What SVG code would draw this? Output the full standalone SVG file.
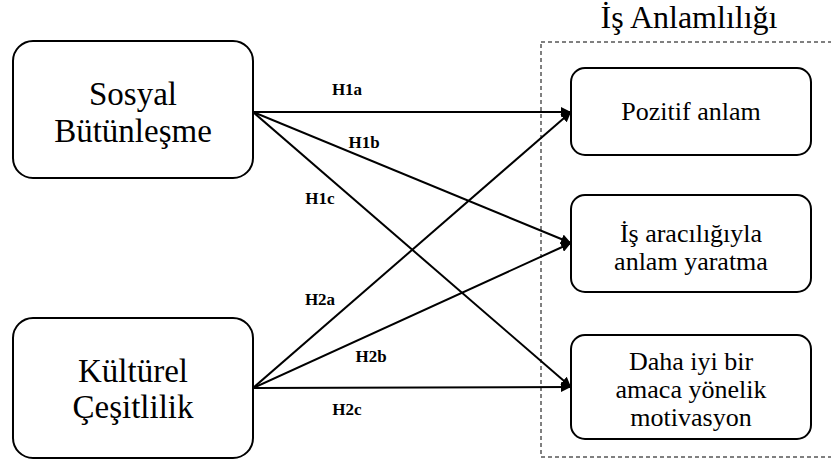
<svg xmlns="http://www.w3.org/2000/svg" width="831" height="471" viewBox="0 0 831 471">
<style>
.box{fill:#fff;stroke:#000;stroke-width:2}
.t{font-family:"Liberation Serif","DejaVu Serif",serif;fill:#000;text-anchor:middle}
.big{font-size:33px}
.mid{font-size:26px}
.lab{font-family:"Liberation Serif","DejaVu Serif",serif;font-size:17px;font-weight:bold;fill:#000;text-anchor:middle}
.c{stroke:#000;stroke-width:2;fill:none;marker-end:url(#ah)}
</style>
<defs>
<marker id="ah" viewBox="0 0 10 10" refX="10" refY="5" markerWidth="5" markerHeight="5" orient="auto" markerUnits="strokeWidth">
<path d="M0,0 L10,5 L0,10 z" fill="#000"/>
</marker>
</defs>
<rect x="541" y="42" width="295" height="415" fill="none" stroke="#000" stroke-width="1" stroke-dasharray="4,3"/>
<text class="t" x="689" y="28" style="font-size:32px">İş Anlamlılığı</text>
<g id="connectors">
<line class="c" x1="253" y1="112" x2="571" y2="112"/>
<line class="c" x1="253" y1="112" x2="571" y2="243"/>
<line class="c" x1="253" y1="112" x2="571" y2="387"/>
<line class="c" x1="253" y1="388" x2="571" y2="112"/>
<line class="c" x1="253" y1="388" x2="571" y2="243"/>
<line class="c" x1="253" y1="388" x2="571" y2="387"/>
<text class="lab" x="347" y="95">H1a</text>
<text class="lab" x="364" y="148">H1b</text>
<text class="lab" x="320" y="204">H1c</text>
<text class="lab" x="320" y="305">H2a</text>
<text class="lab" x="371" y="362">H2b</text>
<text class="lab" x="347" y="415">H2c</text>
</g>
<g id="sosyal">
<rect class="box" x="13" y="41" width="240" height="137" rx="20"/>
<text class="t big" x="133" y="105">Sosyal</text>
<text class="t big" x="133" y="142">Bütünleşme</text>
</g>
<g id="kulturel">
<rect class="box" x="13" y="318" width="240" height="140" rx="20"/>
<text class="t big" x="133" y="382">Kültürel</text>
<text class="t big" x="133" y="418">Çeşitlilik</text>
</g>
<g id="pozitif">
<rect class="box" x="571" y="68" width="240" height="87" rx="14"/>
<text class="t mid" x="691" y="120">Pozitif anlam</text>
</g>
<g id="isaracilig">
<rect class="box" x="571" y="195" width="240" height="97" rx="14"/>
<text class="t mid" x="691" y="242">İş aracılığıyla</text>
<text class="t mid" x="691" y="270">anlam yaratma</text>
</g>
<g id="dahaiyi">
<rect class="box" x="571" y="335" width="240" height="104" rx="14"/>
<text class="t mid" x="691" y="370">Daha iyi bir</text>
<text class="t mid" x="691" y="398">amaca yönelik</text>
<text class="t mid" x="691" y="426">motivasyon</text>
</g>
</svg>
